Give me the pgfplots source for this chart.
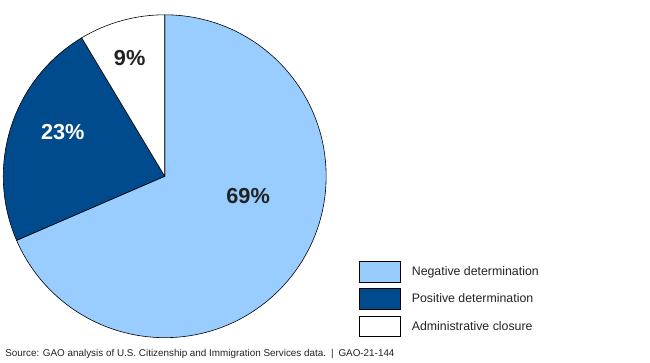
\documentclass[border=0pt]{standalone}
\usepackage{pgfplots}
\pgfplotsset{compat=1.18}
\usepackage{pgfplotstable}
\usepackage{fontspec}
\setmainfont{Liberation Sans}
\definecolor{negblue}{HTML}{99CCFF}
\definecolor{posblue}{HTML}{004B8D}
\definecolor{labgray}{HTML}{222222}

\pgfplotstableread{
share
68.5
22.9
8.6
}\piedata

\begin{document}
\pgfplotstablegetelem{0}{share}\of\piedata \let\sA\pgfplotsretval
\pgfplotstablegetelem{1}{share}\of\piedata \let\sB\pgfplotsretval
\pgfplotstablegetelem{2}{share}\of\piedata \let\sC\pgfplotsretval
\pgfmathsetmacro\aA{90-3.6*\sA}
\pgfmathsetmacro\aB{\aA-3.6*\sB}
\pgfmathsetmacro\aC{\aB-3.6*\sC}
\begin{tikzpicture}
\useasboundingbox (0,0) rectangle (650pt,367pt);
\begin{axis}[
  at={(0,0)}, anchor=south west,
  x=1pt, y=1pt, xmin=0, xmax=650, ymin=0, ymax=367,
  scale only axis, hide axis, clip=false,
  legend image code/.code={\draw[#1, draw=black, line width=0.6pt] (0pt,-10.5pt) rectangle (42pt,10.5pt);},
  legend cell align=left,
  legend style={draw=none, fill=none, at={(axis cs:355,102.7)}, anchor=north west,
    inner sep=0pt, row sep=6pt, font=\fontsize{12.5}{14}\selectfont,
    nodes={inner sep=0pt, text=labgray},
    /tikz/every odd column/.append style={column sep=11pt}},
]
\addlegendimage{fill=negblue}
\addlegendentry{Negative determination}
\addlegendimage{fill=posblue}
\addlegendentry{Positive determination}
\addlegendimage{fill=white}
\addlegendentry{Administrative closure}

\filldraw[fill=negblue, draw=black, line width=0.6pt] (axis cs:158.5,188.5) -- ([shift={(90:163.5pt)}]axis cs:158.5,188.5) arc[start angle=90, end angle=\aA, radius=163.5pt] -- cycle;
\filldraw[fill=posblue, draw=black, line width=0.6pt] (axis cs:158.5,188.5) -- ([shift={(\aA:163.5pt)}]axis cs:158.5,188.5) arc[start angle=\aA, end angle=\aB, radius=163.5pt] -- cycle;
\filldraw[fill=white, draw=black, line width=0.6pt] (axis cs:158.5,188.5) -- ([shift={(\aB:163.5pt)}]axis cs:158.5,188.5) arc[start angle=\aB, end angle=\aC, radius=163.5pt] -- cycle;

\node[font=\bfseries\fontsize{22}{24}\selectfont, text=labgray] at (axis cs:243,168.3) {69\%};
\node[font=\bfseries\fontsize{22}{24}\selectfont, text=white] at (axis cs:55.3,232.9) {23\%};
\node[font=\bfseries\fontsize{22}{24}\selectfont, text=labgray] at (axis cs:123,308.6) {9\%};

\node[anchor=west, inner sep=0pt, font=\fontsize{10}{12}\selectfont, text=labgray] at (axis cs:-3.2,8.4) {Source: GAO analysis of U.S. Citizenship and Immigration Services data.\enspace|\enspace GAO-21-144};
\end{axis}
\end{tikzpicture}
\end{document}
